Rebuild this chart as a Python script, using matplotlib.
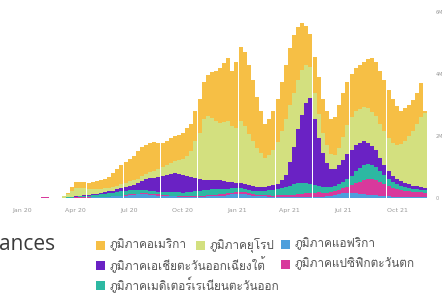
import matplotlib
matplotlib.use('Agg')
import matplotlib.pyplot as plt
import matplotlib.dates as mdates
import pandas as pd
from matplotlib import font_manager
from matplotlib.ft2font import FT2Font
from matplotlib.patches import Rectangle

# weekly new cases (millions) by WHO region, weeks starting 2020-01-06
weeks = pd.date_range('2020-01-06', periods=98, freq='7D')

americas = [0, 0, 0, 0, 0, 0, 0, 0, 0.0005, 0.004,
            0.035, 0.11, 0.19, 0.2, 0.19, 0.2, 0.22, 0.25, 0.28, 0.3,
            0.35, 0.44, 0.52, 0.6, 0.67, 0.72, 0.78, 0.88, 0.92, 0.94,
            0.95, 0.92, 0.86, 0.78, 0.8, 0.8, 0.8, 0.8, 0.84, 0.89,
            0.87, 0.97, 1.1, 1.21, 1.32, 1.47, 1.6, 1.77, 1.9, 2.03,
            1.79, 2.15, 2.36, 2.39, 2.24, 1.98, 1.65, 1.36, 1.1, 1.18,
            1.24, 1.39, 1.59, 1.75, 1.85, 1.86, 1.68, 1.53, 1.28, 1.09,
            1.17, 1.2, 1.12, 1.1, 1.12, 1.22, 1.4, 1.44, 1.39, 1.39,
            1.39, 1.42, 1.47, 1.61, 1.71, 1.76, 1.71, 1.64, 1.58, 1.44,
            1.24, 1.06, 1.07, 1.01, 1.0, 1.02, 1.1, 0.07]
europe = [0, 0, 0, 0, 0, 0, 0.0003, 0.001, 0.008, 0.04,
          0.1, 0.2, 0.26, 0.25, 0.23, 0.2, 0.18, 0.16, 0.14, 0.13,
          0.12, 0.12, 0.12, 0.13, 0.13, 0.14, 0.14, 0.15, 0.16, 0.18,
          0.2, 0.22, 0.24, 0.27, 0.3, 0.35, 0.4, 0.45, 0.52, 0.65,
          0.85, 1.2, 1.5, 1.95, 2.05, 2.0, 1.9, 1.85, 1.9, 1.95,
          1.8, 1.75, 2.0, 1.85, 1.65, 1.45, 1.25, 1.1, 0.95, 1.0,
          1.15, 1.35, 1.6, 1.8, 1.85, 1.75, 1.6, 1.45, 1.2, 1.0,
          0.85, 0.75, 0.62, 0.55, 0.48, 0.45, 0.55, 0.75, 0.95, 1.05,
          1.1, 1.1, 1.1, 1.1, 1.1, 1.1, 1.1, 1.1, 1.05, 1.05,
          1.1, 1.2, 1.35, 1.55, 1.75, 2.0, 2.25, 2.4]
africa = [0, 0, 0, 0, 0, 0, 0, 0, 0.0001, 0.0005,
          0.002, 0.005, 0.008, 0.01, 0.012, 0.015, 0.02, 0.025, 0.03, 0.035,
          0.04, 0.05, 0.06, 0.07, 0.08, 0.1, 0.11, 0.12, 0.13, 0.12,
          0.1, 0.09, 0.08, 0.07, 0.06, 0.05, 0.05, 0.045, 0.04, 0.04,
          0.04, 0.04, 0.04, 0.045, 0.05, 0.055, 0.06, 0.07, 0.08, 0.1,
          0.12, 0.13, 0.13, 0.12, 0.1, 0.08, 0.07, 0.06, 0.05, 0.045,
          0.04, 0.04, 0.04, 0.04, 0.04, 0.04, 0.035, 0.035, 0.035, 0.035,
          0.035, 0.04, 0.045, 0.055, 0.07, 0.09, 0.12, 0.15, 0.17, 0.17,
          0.15, 0.13, 0.12, 0.11, 0.1, 0.09, 0.08, 0.065, 0.05, 0.04,
          0.035, 0.03, 0.025, 0.022, 0.02, 0.02, 0.02, 0.02]
se_asia = [0, 0, 0, 0, 0, 0, 0, 0, 0, 0.0002,
           0.0008, 0.002, 0.005, 0.01, 0.015, 0.02, 0.03, 0.035, 0.045, 0.055,
           0.065, 0.075, 0.085, 0.1, 0.12, 0.15, 0.18, 0.22, 0.29, 0.35,
           0.4, 0.44, 0.48, 0.52, 0.56, 0.6, 0.62, 0.6, 0.56, 0.52,
           0.48, 0.42, 0.38, 0.34, 0.32, 0.31, 0.3, 0.28, 0.25, 0.22,
           0.2, 0.18, 0.17, 0.16, 0.15, 0.14, 0.13, 0.12, 0.12, 0.13,
           0.15, 0.18, 0.25, 0.4, 0.75, 1.2, 1.75, 2.2, 2.6, 2.75,
           2.1, 1.55, 1.1, 0.8, 0.6, 0.55, 0.6, 0.7, 0.8, 0.85,
           0.85, 0.82, 0.78, 0.7, 0.62, 0.55, 0.42, 0.32, 0.25, 0.2,
           0.17, 0.15, 0.14, 0.12, 0.1, 0.09, 0.08, 0.07]
w_pacific = [0.0001, 0.0003, 0.004, 0.012, 0.021, 0.019, 0.012, 0.004, 0.004, 0.005,
             0.007, 0.01, 0.014, 0.016, 0.015, 0.012, 0.009, 0.007, 0.006, 0.006,
             0.006, 0.006, 0.007, 0.009, 0.011, 0.014, 0.018, 0.024, 0.032, 0.038,
             0.042, 0.04, 0.035, 0.032, 0.03, 0.028, 0.028, 0.027, 0.027, 0.028,
             0.028, 0.03, 0.03, 0.032, 0.035, 0.04, 0.045, 0.05, 0.052, 0.055,
             0.055, 0.058, 0.065, 0.06, 0.05, 0.045, 0.04, 0.035, 0.035, 0.038,
             0.04, 0.042, 0.045, 0.05, 0.06, 0.07, 0.085, 0.1, 0.12, 0.13,
             0.14, 0.14, 0.13, 0.12, 0.12, 0.12, 0.13, 0.16, 0.2, 0.26,
             0.33, 0.4, 0.46, 0.5, 0.52, 0.5, 0.45, 0.4, 0.34, 0.28,
             0.25, 0.22, 0.2, 0.19, 0.18, 0.17, 0.16, 0.15]
e_med = [0, 0, 0, 0, 0, 0, 0, 0.0005, 0.003, 0.008,
         0.015, 0.02, 0.025, 0.03, 0.04, 0.05, 0.06, 0.07, 0.08, 0.09,
         0.1, 0.11, 0.13, 0.14, 0.14, 0.13, 0.12, 0.11, 0.1, 0.09,
         0.09, 0.09, 0.09, 0.1, 0.1, 0.1, 0.1, 0.11, 0.11, 0.12,
         0.13, 0.14, 0.15, 0.17, 0.18, 0.19, 0.19, 0.18, 0.17, 0.15,
         0.14, 0.13, 0.13, 0.12, 0.11, 0.11, 0.12, 0.13, 0.14, 0.16,
         0.18, 0.2, 0.23, 0.26, 0.3, 0.33, 0.35, 0.34, 0.32, 0.3,
         0.26, 0.22, 0.19, 0.17, 0.16, 0.17, 0.2, 0.2, 0.24, 0.28,
         0.38, 0.43, 0.47, 0.48, 0.45, 0.4, 0.34, 0.28, 0.23, 0.19,
         0.16, 0.14, 0.12, 0.11, 0.1, 0.1, 0.09, 0.09]

labels = {
    'americas': 'ภูมิภาคอเมริกา',
    'europe': 'ภูมิภาคยุโรป',
    'africa': 'ภูมิภาคแอฟริกา',
    'se_asia': 'ภูมิภาคเอเชียตะวันออกเฉียงใต้',
    'w_pacific': 'ภูมิภาคแปซิฟิกตะวันตก',
    'e_med': 'ภูมิภาคเมดิเตอร์เรเนียนตะวันออก',
}
colors = {
    'americas': '#f6bf45',
    'europe': '#d3e07f',
    'africa': '#4e9fdc',
    'se_asia': '#6a22c4',
    'w_pacific': '#d8399c',
    'e_med': '#2db8a2',
}
tick_dates = ['2020-01-01', '2020-04-01', '2020-07-01', '2020-10-01',
              '2021-01-01', '2021-04-01', '2021-07-01', '2021-10-01']
tick_labels = ['Jan 20', 'Apr 20', 'Jul 20', 'Oct 20', 'Jan 21', 'Apr 21', 'Jul 21', 'Oct 21']

# find a font that can draw Thai
thai_font = 'DejaVu Sans'
for f in font_manager.fontManager.ttflist:
    try:
        if 0x0E20 in FT2Font(f.fname).get_charmap():
            thai_font = f.name
            break
    except Exception:
        pass

W, H = 443, 293
fig = plt.figure(figsize=(W / 100, H / 100), dpi=100)
ax = fig.add_axes([0, (H - 198) / H, 432 / W, 186 / H])

series = {'africa': africa, 'w_pacific': w_pacific, 'e_med': e_med,
          'se_asia': se_asia, 'europe': europe, 'americas': americas}
bottom = [0.0] * len(weeks)
for key, vals in series.items():
    ax.bar(weeks, vals, width=6.8, bottom=bottom, align='edge',
           color=colors[key], linewidth=0)
    bottom = [b + v for b, v in zip(bottom, vals)]

start = mdates.date2num(pd.Timestamp('2020-01-01'))
ax.set_xlim(start - 37.5, start + 698.5)
ax.set_ylim(0, 6)
ax.set_xticks([mdates.date2num(pd.Timestamp(d)) for d in tick_dates])
ax.set_xticklabels(tick_labels, fontsize=4.5, color='#999999')
ax.tick_params(axis='x', length=0, pad=7)
ax.yaxis.tick_right()
ax.set_yticks([0, 2, 4, 6])
ax.set_yticklabels(['0', '2M', '4M', '6M'], fontsize=3.5, color='#999999')
ax.tick_params(axis='y', length=0, pad=2.5)
for s in ax.spines.values():
    s.set_visible(False)

fig.text(-1 / W, 1 - 245 / H, 'ances', fontsize=15, color='#3a3a3a',
         va='center', ha='left', family='Open Sans')

# legend laid out like the original (wrapping rows)
items = [('americas', 96, 245), ('europe', 196, 245), ('africa', 281, 244),
         ('se_asia', 96, 265), ('w_pacific', 281, 264), ('e_med', 96, 285)]
for key, x, y in items:
    fig.add_artist(Rectangle((x / W, 1 - (y + 4.5) / H), 9 / W, 9 / H,
                             transform=fig.transFigure, color=colors[key], lw=0))
    fig.text((x + 14) / W, 1 - y / H, labels[key], fontsize=8.5, color='#555555',
             va='center', ha='left', family=thai_font)

fig.savefig('out.png', dpi=100)
